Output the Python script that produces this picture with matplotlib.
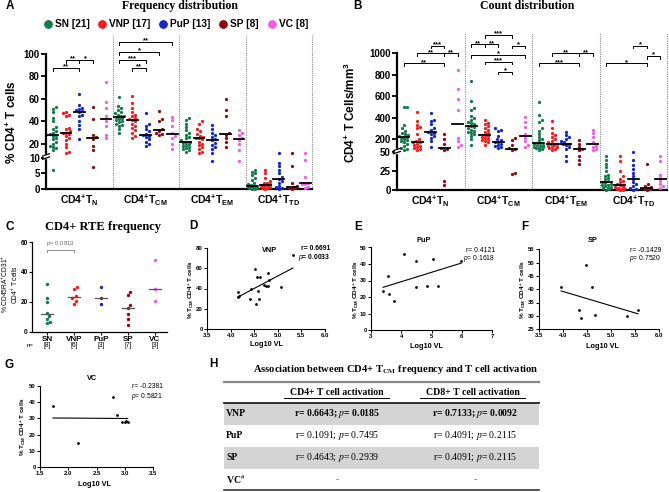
import numpy as np
import matplotlib
matplotlib.use("Agg")
import matplotlib.pyplot as plt
import matplotlib.transforms as mtrans
from matplotlib.patches import Rectangle

W, H = 669, 492

plt.rcParams["font.family"] = ["Liberation Sans", "DejaVu Sans"]
plt.rcParams["mathtext.fontset"] = "custom"
plt.rcParams["mathtext.rm"] = "Liberation Sans"
plt.rcParams["mathtext.it"] = "Liberation Sans:italic"
plt.rcParams["mathtext.bf"] = "Liberation Sans:bold"

# ---------------------------------------------------------------- data
groups = ["SN", "VNP", "PuP", "SP", "VC"]
group_n = [21, 17, 13, 8, 8]
colors = ["#137a4b", "#f01e1e", "#1428c4", "#8a0c10", "#f05ee4"]
subset_labels = [r"CD4$^{\mathbf{+}}$T$_{\mathbf{N}}$", r"CD4$^{\mathbf{+}}$T$_{\mathbf{CM}}$",
                 r"CD4$^{\mathbf{+}}$T$_{\mathbf{EM}}$", r"CD4$^{\mathbf{+}}$T$_{\mathbf{TD}}$"]

# A: % of CD4+ T cells, one list per group (SN, VNP, PuP, SP, VC)
freq_tn = [
    [53, 51, 48, 43, 40, 35, 33, 31, 30, 29, 28, 27, 25, 24, 22, 20, 18, 17, 16, 14, 6],
    [48, 47, 46, 45, 34, 33, 31, 30, 30, 29, 27, 25, 23, 20, 17, 13, 12],
    [64, 55, 52, 51, 50, 49, 48, 46, 45, 40, 37, 33, 24],
    [53, 42, 28, 26, 24, 18, 14, 7],
    [75, 57, 52, 45, 40, 36, 28, 25],
]
freq_tcm = [
    [62, 54, 52, 50, 48, 47, 46, 45, 45, 44, 44, 43, 42, 41, 40, 39, 38, 37, 36, 33, 30],
    [63, 56, 52, 48, 46, 45, 43, 42, 41, 40, 38, 36, 34, 32, 30, 27, 25],
    [47, 38, 36, 33, 31, 29, 28, 27, 26, 24, 22, 20, 18],
    [49, 42, 40, 33, 31, 30, 29, 28],
    [44, 41, 36, 30, 27, 25, 20, 15],
]
freq_tem = [
    [43, 41, 38, 35, 32, 30, 28, 26, 25, 23, 22, 22, 21, 20, 19, 18, 17, 16, 15, 14, 13],
    [40, 38, 33, 31, 29, 27, 26, 25, 25, 24, 22, 20, 19, 17, 15, 13, 12],
    [37, 33, 30, 28, 26, 24, 23, 21, 19, 17, 15, 12, 9],
    [60, 50, 45, 30, 28, 25, 22, 17],
    [32, 30, 28, 25, 23, 20, 14, 9],
]
freq_ttd = [
    [6, 5.5, 5, 4.5, 3.5, 3, 2, 1.5, 1.2, 1, 1, 0.9, 0.8, 0.6, 0.5, 0.4, 0.3, 0.3, 0.2, 0.1, 0.1],
    [6, 5, 3.5, 2.5, 2, 1.8, 1.5, 1.3, 1.2, 1, 0.8, 0.6, 0.5, 0.4, 0.3, 0.2, 0.1],
    [12, 8.5, 7.5, 6, 5, 4, 3.3, 2.5, 2, 1, 0.6, 0.3, 0.1],
    [12, 7.5, 2, 1, 0.6, 0.4, 0.2, 0.1],
    [12, 9.5, 4, 2, 1.6, 1.6, 0.8, 0.4],
]
# (subset, group a, group b, height, label)
freq_sig = [
    (0, 0, 2, 88, "**"), (0, 1, 2, 95, "**"), (0, 2, 3, 95, "*"),
    (1, 0, 4, 111, "**"), (1, 0, 3, 102, "*"), (1, 0, 2, 95, "***"), (1, 1, 2, 88, "**"),
]

# B: CD4+ T cells / mm3
count_tn = [
    [500, 500, 330, 300, 280, 260, 250, 240, 230, 225, 220, 210, 200, 190, 180, 170, 160, 140, 120, 110, 100],
    [450, 370, 330, 310, 300, 250, 200, 180, 175, 170, 160, 150, 140, 130, 120, 110, 100],
    [440, 380, 370, 340, 300, 290, 270, 260, 250, 230, 210, 180, 130],
    [250, 200, 160, 120, 110, 100, 12, 6],
    [840, 670, 575, 470, 210, 180, 150, 130],
]
count_tcm = [
    [740, 560, 490, 470, 420, 400, 380, 360, 350, 340, 320, 310, 300, 290, 280, 270, 260, 250, 230, 200, 150],
    [380, 350, 340, 320, 300, 290, 270, 260, 240, 230, 220, 210, 200, 190, 180, 170, 150],
    [300, 290, 280, 230, 200, 190, 175, 170, 160, 150, 140, 130, 120],
    [210, 190, 150, 115, 105, 100, 22, 21],
    [410, 360, 310, 250, 210, 180, 150, 130],
]
count_tem = [
    [550, 430, 380, 360, 300, 280, 250, 220, 200, 190, 165, 160, 150, 145, 140, 130, 125, 120, 115, 110, 100],
    [370, 300, 260, 240, 220, 200, 180, 170, 160, 155, 150, 140, 130, 125, 120, 110, 100],
    [270, 240, 220, 200, 180, 170, 160, 155, 150, 130, 110, 45, 38],
    [190, 160, 130, 110, 100, 45, 40, 35],
    [290, 260, 220, 170, 140, 130, 110, 100],
]
count_ttd = [
    [45, 40, 35, 30, 25, 20, 18, 16, 14, 12, 10, 9, 8, 7, 6, 5, 4, 3, 2, 1, 0.5],
    [45, 38, 25, 18, 15, 12, 10, 8, 6, 5, 4, 3, 2, 1.5, 1, 0.5, 0.2],
    [50, 40, 33, 28, 22, 18, 14, 10, 8, 5, 3, 1, 0.5],
    [35, 8, 5, 3.5, 2.5, 1.5, 1, 0.5],
    [45, 38, 20, 16, 12, 8, 5, 3],
]
count_sig = [
    (0, 0, 3, 906, "**"), (0, 1, 3, 1000, "**"), (0, 2, 3, 1070, "***"), (0, 3, 4, 1000, "**"),
    (1, 0, 1, 1083, "**"), (1, 1, 2, 1083, "**"), (1, 1, 3, 1170, "***"), (1, 3, 4, 1070, "*"),
    (1, 0, 4, 984, "*"), (1, 1, 3, 921, "***"), (1, 2, 3, 828, "*"),
    (2, 0, 3, 906, "***"), (2, 1, 3, 1000, "**"), (2, 3, 4, 1000, "**"),
    (3, 0, 3, 906, "*"), (3, 2, 3, 1070, "*"), (3, 3, 4, 975, "*"),
]

# C: CD45RA+CD31+ (RTE) % of CD4+ T cells
rte = [[32, 23, 20, 13, 11, 9, 7, 6], [30, 29, 24, 22.5, 21, 19], [30, 23, 19],
       [27, 25, 18, 16, 12, 9, 5], [48, 29, 21]]
rte_n = [8, 6, 3, 7, 3]

# D-G: % TCM CD4+ T cells vs log10 viral load
vnp_vl = [4.15, 4.16, 4.18, 4.41, 4.43, 4.52, 4.54, 4.55, 4.58, 4.61, 4.62, 4.71, 4.75, 4.79, 4.80, 4.82, 5.07, 5.32]
vnp_tcm = [32, 37, 33, 30, 40, 59, 25, 51, 38, 30, 51, 43.5, 42, 55, 42, 48, 41, 73]
pup_vl = [3.4, 3.57, 3.6, 3.77, 4.1, 4.5, 4.5, 4.85, 5.06, 5.2, 5.98]
pup_tcm = [23.6, 32.7, 21.6, 17.8, 46, 42, 26, 26.5, 43, 26.5, 42]
sp_vl = [3.96, 4.34, 4.38, 4.47, 4.6, 4.67, 5.33, 5.56]
sp_tcm = [40.7, 32.2, 29.3, 49.2, 41, 30.2, 29.8, 32.2]
vc_vl = [1.73, 2.17, 2.8, 2.86, 2.95, 3.0, 3.02, 3.05]
vc_tcm = [37.8, 15, 43.5, 32, 27.5, 28, 28.5, 28]

# H: correlation table
table_rows = ["VNP", "PuP", "SP", r"VC$^{\#}$"]
cd4_act = [("0.6643", "0.0185"), ("0.1091", "0.7495"), ("0.4643", "0.2939"), None]
cd8_act = [("0.7133", "0.0092"), ("0.4091", "0.2115"), ("0.4091", "0.2115"), None]

# ---------------------------------------------------------------- helpers
fig = plt.figure(figsize=(W / 100, H / 100), dpi=100)


def add_ax(x0, y0, x1, y1):
    """Axes placed by pixel box (left, top, right, bottom)."""
    return fig.add_axes([x0 / W, 1 - y1 / H, (x1 - x0) / W, (y1 - y0) / H])


def swarm_offsets(vals, to_px, x_px, diam=3.0, cap=5.0):
    ys = to_px(np.asarray(vals, dtype=float))
    cands = [0.0]
    for s in np.arange(diam / 2, cap + 1e-9, diam / 2):
        cands += [s, -s]
    px, py = [], []
    offs = np.zeros(len(ys))
    for i in np.argsort(ys):
        best, best_d = 0.0, -1.0
        for c in cands:
            d = np.min(np.hypot(np.array(px) - c, np.array(py) - ys[i])) if px else np.inf
            if d >= diam:
                best = c
                break
            if d > best_d:
                best, best_d = c, d
        px.append(best)
        py.append(ys[i])
        offs[i] = best / x_px
    return offs


def dot_panel(ax, series, knots_v, knots_px, width_px, ticks, ytop, bound, sig, drop):
    fwd = lambda v: np.interp(v, knots_v, knots_px)
    inv = lambda v: np.interp(v, knots_px, knots_v)
    ax.set_yscale("function", functions=(fwd, inv))
    ax.set_xlim(-0.5, 3.5)
    ax.set_ylim(0, ytop)
    x_px = width_px / 4.0
    for ci, subset in enumerate(series):
        for gi, vals in enumerate(subset):
            xc = ci + (gi - 2) * 0.2
            offs = swarm_offsets(vals, fwd, x_px)
            ax.scatter(xc + offs, vals, s=5.5, color=colors[gi], lw=0, zorder=3, clip_on=False)
            med = np.median(vals)
            ax.plot([xc - 0.08, xc + 0.08], [med, med], color="k", lw=1.3, zorder=4)
    for xv in [0.5, 1.5, 2.5, 3.5]:
        ax.axvline(xv, color="#888888", ls=(0, (1, 1)), lw=0.8, clip_on=False)
    tr = mtrans.offset_copy(ax.transData, fig=fig, y=0.6, units="points")
    for ci, g1, g2, yv, lab in sig:
        x1, x2 = ci + (g1 - 2) * 0.2, ci + (g2 - 2) * 0.2
        ax.plot([x1, x1, x2, x2], [yv - drop, yv, yv, yv - drop], color="k", lw=0.7, clip_on=False)
        ax.text((x1 + x2) / 2, yv, lab, transform=tr, ha="center", va="center",
                fontsize=5.5, fontweight="bold")
    for s in ["top", "right"]:
        ax.spines[s].set_visible(False)
    ax.spines["left"].set_linewidth(1.6)
    ax.spines["bottom"].set_linewidth(1.6)
    ax.spines["left"].set_bounds(0, bound)
    ax.set_yticks(ticks, [str(t) for t in ticks], fontsize=7, fontweight="bold")
    ax.set_xticks(range(4), subset_labels, fontsize=7.5, fontweight="bold")
    ax.tick_params(axis="y", length=3.5, width=1.3, pad=1)
    ax.tick_params(axis="x", length=0, pad=3)
    ax.patch.set_visible(False)


# ---------------------------------------------------------------- A
axA = add_ax(46, 35, 312, 189)
dot_panel(axA, [freq_tn, freq_tcm, freq_tem, freq_ttd],
          [-100, 0, 10, 10.01, 1000], [-310, 0, 31, 34, 34 + 989.99 * 1.12],
          266, [0, 5, 10, 20, 40, 60, 80, 100], 117, 100, freq_sig, 3)

# ---------------------------------------------------------------- B
axB = add_ax(397, 33, 667, 190)
dot_panel(axB, [count_tn, count_tcm, count_tem, count_ttd],
          [-100, 0, 50, 100, 5000], [-75, 0, 37.5, 40, 40 + 4900 * 0.1075],
          270, [0, 25, 50, 200, 400, 600, 800, 1000], 1188, 1000, count_sig, 25)

# ---------------------------------------------------------------- C
axC = add_ax(32, 242, 167, 332)
axC.set_xlim(-0.56, 4.45)
axC.set_ylim(0, 60)
for gi, vals in enumerate(rte):
    offs = swarm_offsets(vals, lambda v: v * 1.5, 27.0, diam=3.2, cap=5)
    axC.scatter(gi + offs, vals, s=6, color=colors[gi], lw=0, zorder=3)
    med = np.median(vals)
    axC.plot([gi - 0.21, gi + 0.21], [med, med], color="#555555", lw=0.9, zorder=4)
axC.plot([0, 0, 1, 1], [53.5, 55, 55, 53.5], color="#777777", lw=0.6)
axC.text(0.5, 56, r"$\it{p}$= $\it{0.0813}$", ha="center", va="bottom", fontsize=4.3, color="#666666")
for s in ["top", "right"]:
    axC.spines[s].set_visible(False)
for s in ["left", "bottom"]:
    axC.spines[s].set_linewidth(0.9)
axC.set_yticks([0, 20, 40, 60], ["0", "20", "40", "60"], fontsize=4.7, fontweight="bold")
axC.set_xticks(range(5), groups, fontsize=5.8, fontweight="bold")
axC.tick_params(length=2, width=0.8, pad=1)
for gi, n in enumerate(rte_n):
    axC.text(gi, -0.155, f"[{n}]", transform=axC.get_xaxis_transform(), ha="center", va="center", fontsize=4.8)
axC.text(-0.5, -0.155, "n=", transform=axC.get_xaxis_transform(), ha="right", va="center", fontsize=4.3)
axC.patch.set_visible(False)


# ---------------------------------------------------------------- D-G
def corr_panel(box, vl, tcm, xlim, xticks, ylim, yticks, xfmt):
    ax = add_ax(*box)
    ax.scatter(vl, tcm, s=4, color="k", lw=0, zorder=3, clip_on=False)
    k, b = np.polyfit(vl, tcm, 1)
    xs = np.array([min(vl), max(vl)])
    ax.plot(xs, k * xs + b, color="k", lw=0.8)
    ax.set_xlim(*xlim)
    ax.set_ylim(*ylim)
    ax.set_xticks(xticks, [xfmt.format(t) for t in xticks], fontsize=4.3, fontweight="bold")
    ax.set_yticks(yticks, [str(t) for t in yticks], fontsize=4.3, fontweight="bold")
    ax.tick_params(length=2, width=0.7, pad=1)
    for s in ["top", "right"]:
        ax.spines[s].set_visible(False)
    for s in ["left", "bottom"]:
        ax.spines[s].set_linewidth(0.8)
    ax.patch.set_visible(False)
    return ax


corr_panel((207, 248, 325, 329), vnp_vl, vnp_tcm, (3.5, 6.0), [3.5, 4.0, 4.5, 5.0, 5.5, 6.0],
           (0, 80), [0, 20, 40, 60, 80], "{:.1f}")
corr_panel((371, 247.5, 492, 330), pup_vl, pup_tcm, (3, 7), [3, 4, 5, 6, 7],
           (0, 50), [0, 10, 20, 30, 40, 50], "{:d}")
corr_panel((539, 249.5, 659, 329), sp_vl, sp_tcm, (3.5, 6.0), [3.5, 4.0, 4.5, 5.0, 5.5, 6.0],
           (25, 55), [25, 30, 35, 40, 45, 50, 55], "{:.1f}")
corr_panel((40, 386, 153, 467), vc_vl, vc_tcm, (1.5, 3.5), [1.5, 2.0, 2.5, 3.0, 3.5],
           (0, 50), [0, 10, 20, 30, 40, 50], "{:.1f}")

# ---------------------------------------------------------------- overlay (pixel coords)
ov = fig.add_axes([0, 0, 1, 1], zorder=10)
ov.set_xlim(0, W)
ov.set_ylim(H, 0)
ov.axis("off")

serif = "Liberation Serif"
for lab, x, y in [("A", 10, 6), ("B", 358, 6), ("C", 10, 227), ("D", 193, 226),
                  ("E", 358, 227), ("F", 525, 227), ("G", 9, 365), ("H", 213, 364)]:
    ov.text(x, y, lab, fontsize=8.5, fontweight="bold", ha="center", va="center")

ov.text(180, 6, "Frequency distribution", family=serif, fontweight="bold", fontsize=8.5, ha="center", va="center")
ov.text(527, 6, "Count distribution", family=serif, fontweight="bold", fontsize=8.5, ha="center", va="center")
ov.text(103, 227, "CD4+ RTE frequency", family=serif, fontweight="bold", fontsize=9, ha="center", va="center")

# legend of panel A
for gi, xm in enumerate([48, 102, 163, 223, 272]):
    ov.scatter([xm], [24], s=48, color=colors[gi], lw=0.6, edgecolor="white")
    ov.text(xm + 7, 24, f"{groups[gi]} [{group_n[gi]}]", fontsize=7.3, fontweight="bold", va="center")

# axis titles
ov.text(12, 122, r"% CD4$^{\mathbf{+}}$ T cells", rotation=90, fontsize=8.5, fontweight="bold",
        ha="center", va="center")
ov.text(350, 112, r"CD4$^{\mathbf{+}}$ T Cells/mm$^{\mathbf{3}}$", rotation=90, fontsize=8.5,
        fontweight="bold", ha="center", va="center")
ov.text(9.5, 284, "% CD45RA$^{+}$CD31$^{+}$\nCD4$^{+}$ T cells", rotation=90, fontsize=4.8,
        ha="center", va="center", linespacing=1.0)

ycm = r"% T$_{\mathbf{CM}}$ CD4$^{\mathbf{+}}$ T cells"
for x, y in [(191, 289), (356, 289), (523, 289), (23, 426)]:
    ov.text(x, y, ycm, rotation=90, fontsize=4.6, fontweight="bold", ha="center", va="center")
for x, y in [(267, 345), (427, 346), (602, 346), (95, 484)]:
    ov.text(x, y, "Log10 VL", fontsize=5.3, fontweight="bold", ha="center", va="center")
for x, y, t in [(270, 251, "VNP"), (424, 241, "PuP"), (593, 241, "SP"), (92, 378, "VC")]:
    ov.text(x, y, t, fontsize=5.3, fontweight="bold", ha="center", va="center")

corr_text = [(330, 249, 257.5, "0.6691", "0.0033", "bold"),
             (495, 251, 258.5, "0.4121", "0.1618", "normal"),
             (661, 251, 258.5, "-0.1429", "0.7520", "normal"),
             (163, 387, 396, "-0.2381", "0.5821", "normal")]
for x, yr, yp, r, p, wt in corr_text:
    ov.text(x, yr, f"r= {r}", fontsize=4.9, fontweight=wt, ha="right", va="center")
    ov.text(x, yp, f"$\\it{{p}}$= {p}", fontsize=4.9, fontweight=wt, ha="right", va="center")

# axis breaks on A and B
for xs, yb in [(46, 156.5), (397, 151)]:
    ov.add_patch(Rectangle((xs - 2, yb - 1.6), 4, 3.2, color="white", zorder=5))
    for dy in (-1.6, 1.6):
        ov.plot([xs - 3.5, xs + 3.5], [yb + dy + 1.2, yb + dy - 1.2], color="k", lw=0.9, zorder=6)

# ---------------------------------------------------------------- H table
ov.text(396, 369, r"Association between CD4+ T$_{\mathbf{CM}}$ frequency and T cell activation",
        family=serif, math_fontfamily="stix", fontweight="bold", fontsize=7.6, ha="center", va="center")
ov.plot([224, 539], [382, 382], color="#888888", lw=1.6)
for x0, x1, xc, txt in [(284, 389, 337, "CD4+ T cell activation"), (420, 525, 473, "CD8+ T cell activation")]:
    ov.text(xc, 392.5, txt, family=serif, fontweight="bold", fontsize=7, ha="center", va="center")
    ov.plot([x0, x1], [398, 398], color="k", lw=0.7)
ov.plot([224, 539], [403, 403], color="#222222", lw=1.3)
row_y = [414, 436, 458, 480]
for ri, name in enumerate(table_rows):
    if ri % 2 == 0:
        ov.add_patch(Rectangle((224, row_y[ri] - 11), 315, 22, color="#d4d4d4", lw=0, zorder=0))
    ov.text(226, row_y[ri], name, family=serif, math_fontfamily="stix", fontweight="bold",
            fontsize=7, ha="left", va="center")
    wt = "bold" if ri == 0 else "normal"
    for xc, cell in [(337, cd4_act[ri]), (475, cd8_act[ri])]:
        txt = "-" if cell is None else f"r= {cell[0]}; $\\mathit{{p}}$= {cell[1]}"
        ov.text(xc, row_y[ri], txt, family=serif, math_fontfamily="stix", fontweight=wt,
                fontsize=7, ha="center", va="center", color="k" if cell else "#777777")
ov.plot([224, 539], [490, 490], color="#222222", lw=1.1)

fig.savefig("out.png", dpi=100)
